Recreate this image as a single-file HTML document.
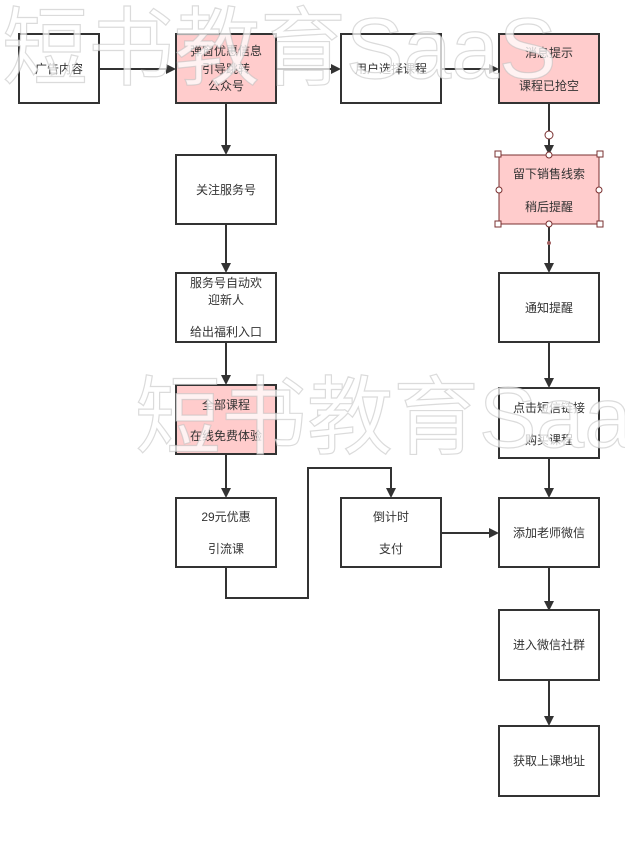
<!DOCTYPE html>
<html><head><meta charset="utf-8"><style>
html,body{margin:0;padding:0;background:#fff;}
svg{display:block;}
text{font-family:"Liberation Sans","Noto Sans CJK SC",sans-serif;}
.t{font-size:12px;fill:#333;text-anchor:middle;}
.b{fill:#fff;stroke:#333;stroke-width:2;}
.p{fill:#ffcccc;stroke:#333;stroke-width:2;}
.l{stroke:#333;stroke-width:2;fill:none;}
.wm{font-size:86px;fill:rgba(255,255,255,0.75);stroke:rgba(190,190,190,0.55);stroke-width:1.2;}
</style></head><body>
<svg width="625" height="842" viewBox="0 0 625 842">
<defs><marker id="a" markerWidth="10" markerHeight="10" refX="8" refY="5" orient="auto" markerUnits="userSpaceOnUse"><path d="M0,0 L10,5 L0,10 Z" fill="#333"/></marker></defs>
<path class="l" d="M99,69 H174" marker-end="url(#a)"/>
<path class="l" d="M276,69 H339" marker-end="url(#a)"/>
<path class="l" d="M441,69 H497" marker-end="url(#a)"/>
<path class="l" d="M226,103 V153" marker-end="url(#a)"/>
<path class="l" d="M226,224 V271" marker-end="url(#a)"/>
<path class="l" d="M226,342 V383" marker-end="url(#a)"/>
<path class="l" d="M226,454 V496" marker-end="url(#a)"/>
<path class="l" d="M226,567 V598 H308 V468 H391 V496" marker-end="url(#a)"/>
<path class="l" d="M441,533 H497" marker-end="url(#a)"/>
<path class="l" d="M549,103 V153" marker-end="url(#a)"/>
<path class="l" d="M549,224 V271" marker-end="url(#a)"/>
<path class="l" d="M549,342 V386" marker-end="url(#a)"/>
<path class="l" d="M549,458 V496" marker-end="url(#a)"/>
<path class="l" d="M549,567 V609" marker-end="url(#a)"/>
<path class="l" d="M549,680 V724" marker-end="url(#a)"/>
<rect class="b" x="19" y="34" width="80" height="69"/>
<text class="t" x="59" y="73">广告内容</text>
<rect class="p" x="176" y="34" width="100" height="69"/>
<text class="t" x="226" y="55">弹窗优惠信息</text>
<text class="t" x="226" y="73">引导跳转</text>
<text class="t" x="226" y="90">公众号</text>
<rect class="b" x="341" y="34" width="100" height="69"/>
<text class="t" x="391" y="73">用户选择课程</text>
<rect class="p" x="499" y="34" width="100" height="69"/>
<text class="t" x="549" y="57">消息提示</text>
<text class="t" x="549" y="90">课程已抢空</text>
<rect class="b" x="176" y="155" width="100" height="69"/>
<text class="t" x="226" y="194">关注服务号</text>
<rect class="p" x="499" y="155" width="100" height="69" style="stroke:#7a3030;stroke-width:1"/>
<text class="t" x="549" y="178">留下销售线索</text>
<text class="t" x="549" y="211">稍后提醒</text>
<g fill="#fff" stroke="#7a3030" stroke-width="1">
<rect x="495" y="151" width="6" height="6"/><rect x="597" y="151" width="6" height="6"/>
<rect x="495" y="221" width="6" height="6"/><rect x="597" y="221" width="6" height="6"/>
<circle cx="549" cy="155" r="3"/><circle cx="549" cy="224" r="3"/>
<circle cx="499" cy="190" r="3"/><circle cx="599" cy="190" r="3"/>
<circle cx="549" cy="135" r="4"/>
</g>
<circle cx="549" cy="243" r="2" fill="#a06060"/>
<rect class="b" x="176" y="273" width="100" height="69"/>
<text class="t" x="226" y="287">服务号自动欢</text>
<text class="t" x="226" y="304">迎新人</text>
<text class="t" x="226" y="336">给出福利入口</text>
<rect class="b" x="499" y="273" width="100" height="69"/>
<text class="t" x="549" y="312">通知提醒</text>
<rect class="p" x="176" y="385" width="100" height="69"/>
<text class="t" x="226" y="409">全部课程</text>
<text class="t" x="226" y="440">在线免费体验</text>
<rect class="b" x="499" y="388" width="100" height="70"/>
<text class="t" x="549" y="412">点击短信链接</text>
<text class="t" x="549" y="444">购买课程</text>
<rect class="b" x="176" y="498" width="100" height="69"/>
<text class="t" x="226" y="521">29元优惠</text>
<text class="t" x="226" y="553">引流课</text>
<rect class="b" x="341" y="498" width="100" height="69"/>
<text class="t" x="391" y="521">倒计时</text>
<text class="t" x="391" y="553">支付</text>
<rect class="b" x="499" y="498" width="100" height="69"/>
<text class="t" x="549" y="537">添加老师微信</text>
<rect class="b" x="499" y="610" width="100" height="70"/>
<text class="t" x="549" y="649">进入微信社群</text>
<rect class="b" x="499" y="726" width="100" height="70"/>
<text class="t" x="549" y="765">获取上课地址</text>
<text class="wm" x="2" y="78">短书教育SaaS</text>
<text class="wm" x="135" y="447">短书教育SaaS</text>
</svg>
</body></html>
